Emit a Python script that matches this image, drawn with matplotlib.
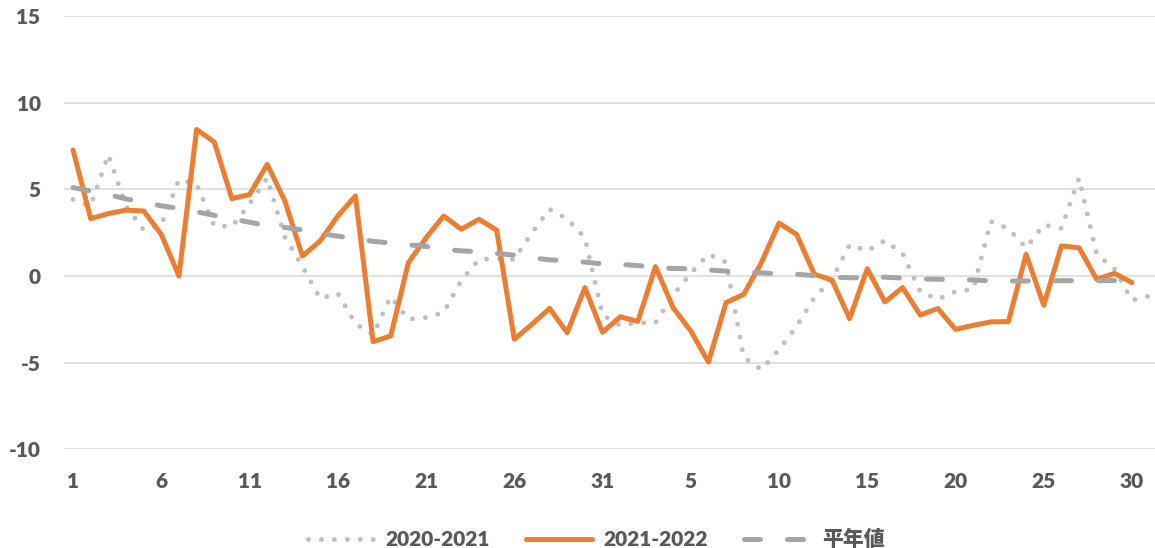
import matplotlib
matplotlib.use('Agg')
import matplotlib.pyplot as plt

plt.rcParams['font.family'] = ['Lato', 'Noto Sans CJK JP', 'DejaVu Sans']
plt.rcParams['axes.unicode_minus'] = False

# x categories: 31 days then 31 days
days = list(range(1, 32)) + list(range(1, 32))

s2020 = [4.42, 4.05, 7.0, 4.03, 2.65, 2.95, 5.55, 5.3, 2.9, 2.85,
         4.15, 5.65, 2.25, 0.55, -1.3, -1.0, -2.75, -3.4, -1.2, -2.5,
         -2.4, -2.1, -0.25, 0.95, 1.0, 0.95, 2.5, 3.85, 3.3, 2.2,
         -2.25, -2.85, -2.7, -2.7, -1.1, 0.15, 1.25, 0.8, -4.7, -5.4,
         -4.25, -2.9, -1.25, -0.2, 1.8, 1.45, 2.05, 1.3, -0.9, -1.35,
         -0.9, -0.77, 3.15, 2.73, 1.63, 2.95, 2.75, 5.65, 1.25, 0.42,
         -1.4, -1.15]

s2021 = [7.27, 3.31, 3.6, 3.8, 3.75, 2.4, 0.0, 8.45, 7.73, 4.46,
         4.7, 6.44, 4.33, 1.15, 2.02, 3.46, 4.62, -3.79, -3.46, 0.77,
         2.2, 3.46, 2.7, 3.27, 2.65, -3.65, -2.79, -1.87, -3.27, -0.67,
         -3.25, -2.35, -2.62, 0.54, -1.83, -3.17, -4.96, -1.54, -1.06, 0.77,
         3.05, 2.4, 0.1, -0.23, -2.46, 0.42, -1.5, -0.67, -2.25, -1.88,
         -3.08, -2.85, -2.65, -2.63, 1.25, -1.69, 1.73, 1.63, -0.19, 0.15,
         -0.38]

normal = [5.1, 4.9, 4.7, 4.45, 4.25, 4.05, 3.9, 3.7, 3.5, 3.3,
          3.1, 2.9, 2.8, 2.65, 2.45, 2.3, 2.15, 2.0, 1.9, 1.8,
          1.7, 1.55, 1.45, 1.4, 1.3, 1.2, 1.05, 0.93, 0.88, 0.8,
          0.7, 0.67, 0.6, 0.5, 0.43, 0.42, 0.35, 0.28, 0.23, 0.18,
          0.12, 0.1, 0.02, -0.07, -0.1, -0.1, -0.07, -0.12, -0.17, -0.19,
          -0.2, -0.23, -0.28, -0.29, -0.29, -0.28, -0.27, -0.27, -0.27, -0.27,
          -0.27]

labels = ['2020-2021', '2021-2022', '平年値']

text_col = '#595959'
weight = 800

fig = plt.figure(figsize=(11.55, 5.48), dpi=100)
ax = fig.add_axes([0.0556, 0.1801, 0.9474, 0.7907])

ax.plot(range(len(s2020)), s2020, color='#BFBFBF', lw=3.5,
        linestyle=(0, (0.01, 2.65)), dash_capstyle='round', label=labels[0])
ax.plot(range(len(s2021)), s2021, color='#ED7D31', lw=3.6,
        solid_joinstyle='round', solid_capstyle='round', label=labels[1])
ax.plot(range(len(normal)), normal, color='#A5A5A5', lw=3.6,
        linestyle=(0, (3.2, 5.4)), dash_capstyle='round', label=labels[2])

ax.set_xlim(-0.5, len(days) - 0.5)
ax.set_ylim(-10, 15)
ax.set_yticks(range(-10, 16, 5))
ticks = list(range(0, len(days) - 1, 5))
ax.set_xticks(ticks)
ax.set_xticklabels([str(days[t]) for t in ticks])

ax.grid(axis='y', color='#D9D9D9', lw=1.1)
ax.set_axisbelow(True)
for sp in ax.spines.values():
    sp.set_visible(False)
ax.tick_params(axis='both', length=0, labelsize=15, labelcolor=text_col)
ax.tick_params(axis='y', pad=17)
ax.tick_params(axis='x', pad=16)
for t in ax.get_xticklabels() + ax.get_yticklabels():
    t.set_fontweight(weight)

leg = fig.legend(loc='lower center', bbox_to_anchor=(0.516, -0.036), ncol=3,
                 frameon=False, fontsize=15, handlelength=3.2,
                 handletextpad=0.55, columnspacing=1.7)
for t in leg.get_texts():
    t.set_color(text_col)
    t.set_fontweight(weight)

fig.savefig('out.png', dpi=100)
